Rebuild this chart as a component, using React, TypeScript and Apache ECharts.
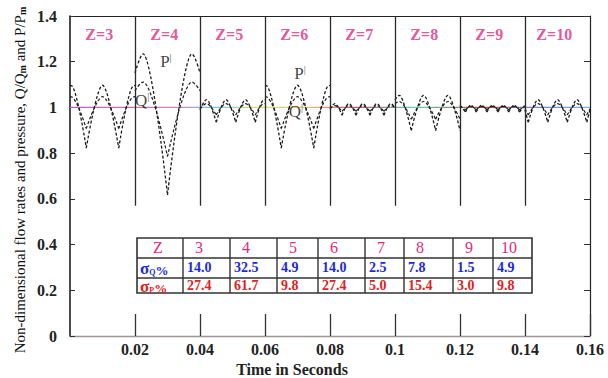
import React, { useEffect, useRef } from "react";
import * as echarts from "echarts";

// ---------- data ----------
const segmentStarts = [0, 0.02, 0.04, 0.06, 0.08, 0.1, 0.12, 0.14];
const zValues = [3, 4, 5, 6, 7, 8, 9, 10];
const sigmaQ = ["14.0", "32.5", "4.9", "14.0", "2.5", "7.8", "1.5", "4.9"];
const sigmaP = ["27.4", "61.7", "9.8", "27.4", "5.0", "15.4", "3.0", "9.8"];
const referenceLevel = 1;
const boundaryLineBottom = 0.57;

// Each arc: list of [time (s), Q/Qm, P/Pm]
const arcsZ3 = [
  [[0, 1.047, 1.097], [0.0004, 1.046, 1.095], [0.005, 0.907, 0.822]],
  [[0.005, 0.907, 0.822], [0.01, 1.047, 1.097], [0.015, 0.907, 0.822]],
  [[0.015, 0.907, 0.822], [0.0196, 1.046, 1.095], [0.02, 1.047, 1.097]],
];
const arcsZ4 = [
  [[0.02, 1.073, 1.151], [0.0225, 1.111, 1.234], [0.03, 0.785, 0.617]],
  [[0.03, 0.785, 0.617], [0.0375, 1.111, 1.234], [0.04, 1.073, 1.151]],
];
const arcsZ5 = [
  [[0.04, 0.994, 0.989], [0.042, 1.017, 1.034], [0.045, 0.967, 0.935]],
  [[0.045, 0.967, 0.935], [0.048, 1.017, 1.034], [0.051, 0.967, 0.935]],
  [[0.051, 0.967, 0.935], [0.054, 1.017, 1.034], [0.057, 0.967, 0.935]],
  [[0.057, 0.967, 0.935], [0.0596, 1.016, 1.033], [0.06, 1.017, 1.034]],
];
const arcsZ6 = [
  [[0.06, 1.047, 1.097], [0.0604, 1.046, 1.095], [0.065, 0.907, 0.822]],
  [[0.065, 0.907, 0.822], [0.07, 1.047, 1.097], [0.075, 0.907, 0.822]],
  [[0.075, 0.907, 0.822], [0.0796, 1.046, 1.095], [0.08, 1.047, 1.097]],
];
const arcsZ7 = [
  [[0.08, 0.996, 0.992], [0.0815, 1.008, 1.017], [0.0837, 0.983, 0.966]],
  [[0.0837, 0.983, 0.966], [0.0858, 1.008, 1.017], [0.088, 0.983, 0.966]],
  [[0.088, 0.983, 0.966], [0.0901, 1.008, 1.017], [0.0923, 0.983, 0.966]],
  [[0.0923, 0.983, 0.966], [0.0944, 1.008, 1.017], [0.0966, 0.983, 0.966]],
  [[0.0966, 0.983, 0.966], [0.0987, 1.008, 1.017], [0.1, 0.999, 0.998]],
];
const arcsZ8 = [
  [[0.1, 1.017, 1.033], [0.1013, 1.026, 1.053], [0.105, 0.948, 0.899]],
  [[0.105, 0.948, 0.899], [0.1088, 1.026, 1.053], [0.1125, 0.948, 0.899]],
  [[0.1125, 0.948, 0.899], [0.1163, 1.026, 1.053], [0.12, 0.948, 0.899]],
];
const arcsZ9 = [
  [[0.12, 1.005, 1.01], [0.1217, 0.99, 0.98]],
  [[0.1217, 0.99, 0.98], [0.1233, 1.005, 1.01], [0.125, 0.99, 0.98]],
  [[0.125, 0.99, 0.98], [0.1267, 1.005, 1.01], [0.1283, 0.99, 0.98]],
  [[0.1283, 0.99, 0.98], [0.13, 1.005, 1.01], [0.1317, 0.99, 0.98]],
  [[0.1317, 0.99, 0.98], [0.1333, 1.005, 1.01], [0.135, 0.99, 0.98]],
  [[0.135, 0.99, 0.98], [0.1367, 1.005, 1.01], [0.1383, 0.99, 0.98]],
  [[0.1383, 0.99, 0.98], [0.14, 1.005, 1.01]],
];
const arcsZ10 = [
  [[0.14, 0.994, 0.989], [0.141, 0.967, 0.935]],
  [[0.141, 0.967, 0.935], [0.144, 1.017, 1.034], [0.147, 0.967, 0.935]],
  [[0.147, 0.967, 0.935], [0.15, 1.017, 1.034], [0.153, 0.967, 0.935]],
  [[0.153, 0.967, 0.935], [0.156, 1.017, 1.034], [0.159, 0.967, 0.935]],
  [[0.159, 0.967, 0.935], [0.16, 0.994, 0.989]],
];

// annotation positions [time, value]
const pLabelPos = [[0.0295, 1.203], [0.0708, 1.15]];
const qLabelPos = [[0.0222, 1.032], [0.0695, 0.984]];
const zLabelValue = 1.32;

// ---------- build ----------
const allArcs = [
  ...arcsZ3, ...arcsZ4, ...arcsZ5, ...arcsZ6,
  ...arcsZ7, ...arcsZ8, ...arcsZ9, ...arcsZ10,
];

function buildCurve(col: number) {
  const out: any[] = [];
  allArcs.forEach((arc, i) => {
    if (i > 0) out.push([arc[0][0], "-"]);
    arc.forEach((p) => out.push([p[0], p[col]]));
  });
  return out;
}

const SERIF = "Liberation Serif";
const PINK = "#e2287f";
const BLUE = "#1d2bd6";
const RED = "#e0231c";
const CURVE = "#1a1a1a";

// table layout
const tableLeft = 137;
const tableTop = 238;
const colEdges = [0, 46, 93, 140, 181, 228, 267, 316, 356, 395];
const rowEdges = [0, 20, 40, 55];
const rowCenters = [9.5, 29, 47];

function txt(x: number, y: number, text: string, color: string, size: number, weight: string, align = "left") {
  return {
    type: "text",
    x,
    y,
    style: {
      text,
      fill: color,
      fontSize: size,
      fontWeight: weight,
      fontFamily: SERIF,
      align,
      verticalAlign: "middle",
    },
  };
}

function buildTable() {
  const children: any[] = [];
  const W = colEdges[colEdges.length - 1];
  const H = rowEdges[rowEdges.length - 1];
  children.push({
    type: "rect",
    shape: { x: 0, y: 0, width: W, height: H },
    style: { fill: "#fff", stroke: "#333", lineWidth: 1.6 },
  });
  rowEdges.slice(1, -1).forEach((y) =>
    children.push({
      type: "line",
      shape: { x1: 0, y1: y, x2: W, y2: y },
      style: { stroke: "#333", lineWidth: 1.4 },
    })
  );
  colEdges.slice(1, -1).forEach((x) =>
    children.push({
      type: "line",
      shape: { x1: x, y1: 0, x2: x, y2: H },
      style: { stroke: "#333", lineWidth: 1.4 },
    })
  );
  children.push(txt(colEdges[0] + 21, rowCenters[0], "Z", PINK, 16, "normal", "center"));
  const sigmaRich = (color: string) => ({
    s: { fontSize: 17, fontWeight: "bold", fontFamily: SERIF, fill: color, verticalAlign: "bottom" },
    sub: { fontSize: 8, fontWeight: "bold", fontFamily: SERIF, fill: color, verticalAlign: "bottom" },
    p: { fontSize: 13, fontWeight: "bold", fontFamily: SERIF, fill: color, verticalAlign: "bottom" },
  });
  [
    { row: 1, sub: "Q", color: BLUE },
    { row: 2, sub: "P", color: RED },
  ].forEach((r) =>
    children.push({
      type: "text",
      x: colEdges[0] + 3,
      y: rowCenters[r.row] + 1,
      style: {
        text: `{s|σ}{sub|${r.sub}}{p|%}`,
        rich: sigmaRich(r.color),
        fill: r.color,
        fontSize: 13,
        fontFamily: SERIF,
        align: "left",
        verticalAlign: "middle",
      },
    })
  );
  zValues.forEach((z, i) => {
    const left = colEdges[i + 1];
    children.push(txt(left + 16, rowCenters[0], String(z), PINK, 16, "normal", "center"));
    children.push(txt(left + 4, rowCenters[1], sigmaQ[i], BLUE, 14, "bold"));
    children.push(txt(left + 4, rowCenters[2], sigmaP[i], RED, 14, "bold"));
  });
  return { type: "group", x: tableLeft, y: tableTop, z: 100, children };
}

function buildOption() {
  const lineStyleBase = { color: CURVE, width: 1.2, type: [3, 2] as any };

  const annotations: any[] = [];
  zValues.forEach((z, i) =>
    annotations.push({
      value: [segmentStarts[i] + 0.009, zLabelValue],
      label: {
        formatter: "Z=" + z,
        color: PINK,
        fontSize: 16,
        fontWeight: "bold",
        fontFamily: SERIF,
      },
    })
  );
  pLabelPos.forEach((p) =>
    annotations.push({ value: p, label: { formatter: "{a|P}{b||}" } })
  );
  qLabelPos.forEach((p) =>
    annotations.push({ value: p, label: { formatter: "{a|Q}{b||}" } })
  );

  const refGradient = new echarts.graphic.LinearGradient(
    70, 0, 590, 0,
    [
      { offset: 0, color: "#c45fc8" },
      { offset: 0.12, color: "#d56aa8" },
      { offset: 0.2, color: "#d883b9" },
      { offset: 0.28, color: "#6fcbe3" },
      { offset: 0.36, color: "#d9df72" },
      { offset: 0.45, color: "#e2cf78" },
      { offset: 0.55, color: "#c9517a" },
      { offset: 0.66, color: "#68cfb4" },
      { offset: 0.8, color: "#b4584a" },
      { offset: 0.92, color: "#7390e2" },
      { offset: 1, color: "#7fb4e6" },
    ],
    true
  );

  const tickFont = { color: "#222", fontFamily: SERIF, fontWeight: "bold", fontSize: 16 };

  return {
    animation: false,
    grid: { left: 70, right: 18, top: 16, bottom: 42 },
    xAxis: [
      {
        type: "value",
        min: 0,
        max: 0.16,
        interval: 0.02,
        position: "bottom",
        axisLine: { show: true, lineStyle: { color: "#a09595", width: 1.4 } },
        axisTick: { show: true, inside: true, length: 22, lineStyle: { color: "#333", width: 1.3 } },
        axisLabel: { showMinLabel: false, margin: 5, ...tickFont },
        splitLine: { show: false },
      },
      {
        type: "value",
        min: 0,
        max: 0.16,
        position: "top",
        axisLine: { show: true, onZero: false, lineStyle: { color: "#222", width: 1.2 } },
        axisTick: { show: false },
        axisLabel: { show: false },
        splitLine: { show: false },
      },
    ],
    yAxis: [
      {
        type: "value",
        min: 0,
        max: 1.4,
        interval: 0.2,
        axisLine: { show: true, lineStyle: { color: "#111", width: 1.5 } },
        axisTick: { show: true, inside: true, length: 5, lineStyle: { color: "#333" } },
        axisLabel: { margin: 13, ...tickFont },
        splitLine: { show: false },
      },
      {
        type: "value",
        min: 0,
        max: 1.4,
        interval: 0.2,
        position: "right",
        axisLine: { show: true, onZero: false, lineStyle: { color: "#222", width: 1.2 } },
        axisTick: { show: true, inside: true, length: 6, lineStyle: { color: "#333" } },
        axisLabel: { show: false },
        splitLine: { show: false },
      },
    ],
    series: [
      {
        name: "reference",
        type: "line",
        data: [[0, referenceLevel], [0.16, referenceLevel]],
        symbol: "none",
        silent: true,
        lineStyle: { color: refGradient, width: 1.2 },
        z: 2,
        markLine: {
          silent: true,
          symbol: ["none", "none"],
          label: { show: false },
          lineStyle: { color: "#2a2a2a", width: 1.3, type: "solid" },
          data: segmentStarts.slice(1).map((t) => [
            { coord: [t, 1.4] },
            { coord: [t, boundaryLineBottom] },
          ]),
        },
      },
      {
        name: "Q",
        type: "line",
        data: buildCurve(1),
        symbol: "none",
        showSymbol: false,
        smooth: 0.35,
        smoothMonotone: "x",
        connectNulls: false,
        silent: true,
        lineStyle: lineStyleBase,
        z: 3,
      },
      {
        name: "P",
        type: "line",
        data: buildCurve(2),
        symbol: "none",
        showSymbol: false,
        smooth: 0.35,
        smoothMonotone: "x",
        connectNulls: false,
        silent: true,
        lineStyle: { ...lineStyleBase, width: 1.3 },
        z: 3,
      },
      {
        name: "labels",
        type: "scatter",
        symbolSize: 1,
        silent: true,
        itemStyle: { color: "transparent" },
        z: 5,
        label: {
          show: true,
          position: "inside",
          color: "#111",
          fontFamily: SERIF,
          rich: {
            a: { fontSize: 17, fontFamily: SERIF, color: "#111" },
            b: { fontSize: 10, fontFamily: SERIF, color: "#111", verticalAlign: "top" },
          },
        },
        data: annotations,
      },
    ],
    graphic: [
      {
        type: "text",
        x: 20,
        y: 180,
        rotation: Math.PI / 2,
        style: {
          text: "Non-dimensional flow rates and pressure, Q/Q{m|m} and P/P{m|m}",
          fontSize: 15,
          fontFamily: SERIF,
          fill: "#111",
          align: "center",
          verticalAlign: "middle",
          rich: {
            m: { fontSize: 10, fontFamily: SERIF, fill: "#111", fontWeight: "bold", verticalAlign: "bottom" },
          },
        },
      },
      txt(292, 369, "Time in Seconds", "#222", 16, "bold", "center"),
      buildTable(),
    ],
  };
}

export default function App() {
  const ref = useRef<HTMLDivElement>(null);
  useEffect(() => {
    if (!ref.current) return;
    const chart = echarts.init(ref.current, undefined, { renderer: "svg" });
    chart.setOption(buildOption() as any);
    return () => chart.dispose();
  }, []);
  return (
    <div
      ref={ref}
      style={{
        position: "fixed",
        left: 0,
        top: 0,
        width: 608,
        height: 378,
        background: "#fff",
      }}
    />
  );
}
